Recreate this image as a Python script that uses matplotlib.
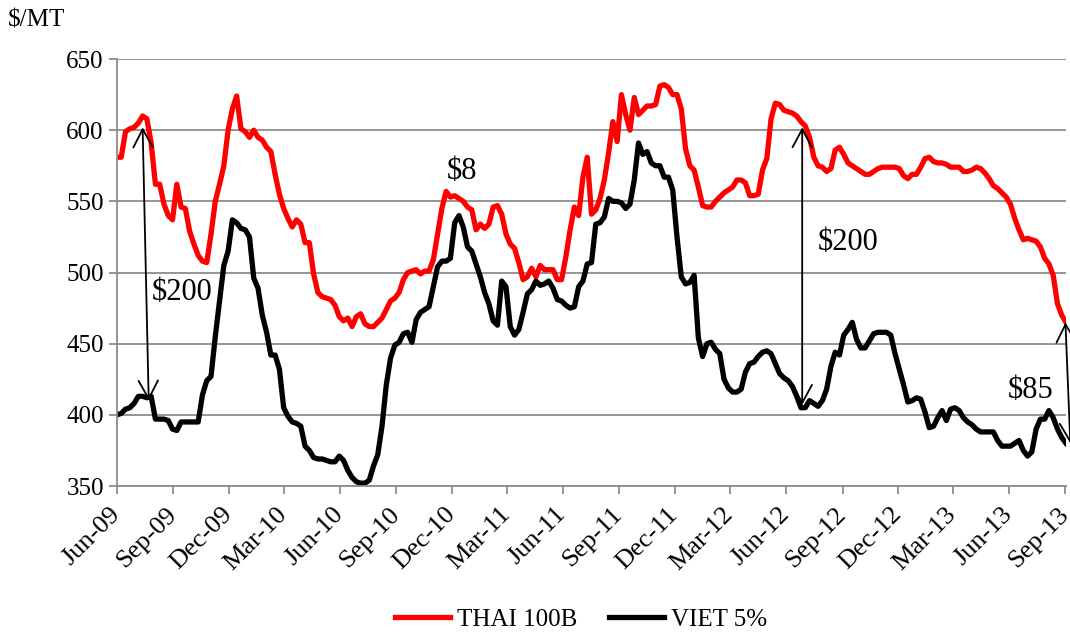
import numpy as np
import pandas as pd
import matplotlib
matplotlib.use("Agg")
import matplotlib.pyplot as plt
import matplotlib.dates as mdates

# weekly export prices, $/MT
dates = pd.date_range("2009-06-01", periods=223, freq="7D")

thai_100b = [581, 581, 599, 601, 602, 605, 610, 608, 591, 562,
             562, 548, 540, 537, 562, 546, 545, 529, 520, 512,
             508, 507, 527, 550, 562, 575, 600, 615, 624, 601,
             599, 595, 600, 595, 593, 588, 585, 569, 555, 545,
             538, 532, 537, 534, 521, 521, 499, 486, 483, 482,
             481, 477, 469, 466, 468, 462, 469, 471, 464, 462,
             462, 465, 468, 474, 480, 482, 486, 495, 500, 501,
             502, 499, 501, 501, 509, 527, 545, 557, 553, 554,
             552, 550, 546, 544, 530, 534, 531, 534, 546, 547,
             541, 527, 520, 517, 507, 495, 497, 503, 497, 505,
             502, 502, 502, 495, 495, 511, 530, 546, 540, 567,
             581, 541, 544, 552, 565, 584, 606, 592, 625, 611,
             600, 623, 611, 614, 617, 617, 618, 631, 632, 630,
             625, 625, 615, 587, 575, 572, 560, 547, 546, 546,
             550, 553, 556, 558, 560, 565, 565, 563, 554, 554,
             555, 572, 580, 608, 619, 618, 614, 613, 612, 610,
             606, 603, 595, 581, 575, 574, 571, 573, 586, 588,
             583, 577, 575, 573, 571, 569, 569, 571, 573, 574,
             574, 574, 574, 573, 568, 566, 569, 569, 574, 580,
             581, 578, 577, 577, 576, 574, 574, 574, 571, 571,
             572, 574, 573, 570, 566, 561, 559, 556, 553, 548,
             538, 530, 523, 524, 523, 522, 518, 510, 506, 498,
             478, 470, 465]

viet_5 = [400, 401, 404, 405, 408, 413, 413, 412, 413, 397,
          397, 397, 396, 390, 389, 395, 395, 395, 395, 395,
          414, 424, 427, 455, 480, 505, 515, 537, 535, 531,
          530, 525, 496, 489, 470, 458, 442, 442, 432, 405,
          399, 395, 394, 392, 378, 375, 370, 369, 369, 368,
          367, 367, 371, 368, 361, 356, 353, 352, 352, 354,
          364, 372, 392, 421, 440, 449, 451, 457, 458, 451,
          467, 472, 474, 476, 490, 504, 508, 508, 510, 535,
          540, 532, 518, 515, 506, 497, 486, 478, 466, 463,
          494, 490, 462, 456, 460, 472, 485, 488, 494, 491,
          492, 494, 489, 481, 480, 477, 475, 476, 490, 494,
          506, 507, 534, 535, 539, 552, 550, 550, 549, 545,
          548, 565, 591, 583, 585, 577, 575, 575, 567, 567,
          558, 525, 497, 492, 493, 498, 454, 441, 450, 451,
          446, 443, 425, 419, 416, 416, 418, 430, 436, 437,
          441, 444, 445, 443, 436, 429, 426, 424, 420, 413,
          405, 405, 410, 408, 406, 410, 418, 434, 444, 442,
          456, 460, 465, 453, 447, 447, 452, 457, 458, 458,
          458, 456, 443, 432, 421, 409, 410, 412, 411, 402,
          391, 392, 398, 403, 396, 404, 405, 403, 398, 395,
          393, 390, 388, 388, 388, 388, 382, 378, 378, 378,
          380, 382, 375, 371, 374, 390, 397, 397, 403, 398,
          390, 384, 380]

# spread arrows (top date, top value, bottom date, bottom value) and labels
arrows = [("2009-07-13", 602, "2009-07-23", 410),
          ("2012-06-27", 602, "2012-06-27", 407),
          ("2013-09-01", 465, "2013-09-09", 380)]
notes = [("$200", "2009-07-28", 486),
         ("$8", "2010-11-23", 571),
         ("$200", "2012-07-22", 521),
         ("$85", "2013-05-29", 417)]

plt.rcParams["font.family"] = ["Liberation Serif", "DejaVu Serif"]
grey = "#8c8c8c"

fig = plt.figure(figsize=(10.7, 6.32), dpi=100)
ax = fig.add_axes([0.1093, 0.231, 0.887, 0.6756])

ax.plot(dates, thai_100b, color="#ff0000", lw=3.8, label="THAI 100B")
ax.plot(dates, viet_5, color="black", lw=3.8, label="VIET 5%")

ax.set_ylim(350, 650)
ax.set_yticks(np.arange(350, 651, 50))
ax.set_xlim(dates[0], dates[-1])
ax.xaxis.set_major_locator(mdates.MonthLocator(bymonth=(3, 6, 9, 12)))
ax.xaxis.set_major_formatter(mdates.DateFormatter("%b-%y"))

ax.yaxis.grid(True, color=grey, lw=1.3)
ax.set_axisbelow(True)
for s in ["top", "right"]:
    ax.spines[s].set_visible(False)
for s in ["left", "bottom"]:
    ax.spines[s].set_color(grey)
    ax.spines[s].set_linewidth(1.3)
ax.tick_params(axis="both", direction="out", length=6, width=1.3,
               color=grey, labelsize=18)
ax.tick_params(axis="x", pad=12, labelsize=19)
for lbl in ax.get_xticklabels():
    lbl.set_rotation(45)
    lbl.set_ha("right")
    lbl.set_va("center")
    lbl.set_rotation_mode("anchor")

for x0, y0, x1, y1 in arrows:
    ax.annotate("", xy=(mdates.date2num(pd.Timestamp(x1)), y1),
                xytext=(mdates.date2num(pd.Timestamp(x0)), y0),
                annotation_clip=False,
                arrowprops=dict(arrowstyle="<->,head_length=0.65,head_width=0.35",
                                mutation_scale=20, lw=1.3, color="black",
                                shrinkA=0, shrinkB=0))
for txt, x, y in notes:
    ax.text(mdates.date2num(pd.Timestamp(x)), y, txt, fontsize=22,
            ha="left", va="center")

fig.text(0.007, 0.967, "$/MT", fontsize=18, va="center")
fig.legend(loc="center", bbox_to_anchor=(0.543, 0.019), ncol=2, frameon=False,
           fontsize=18, handlelength=2.2, columnspacing=1.3, handletextpad=0.25)

fig.savefig("out.png", dpi=100)
